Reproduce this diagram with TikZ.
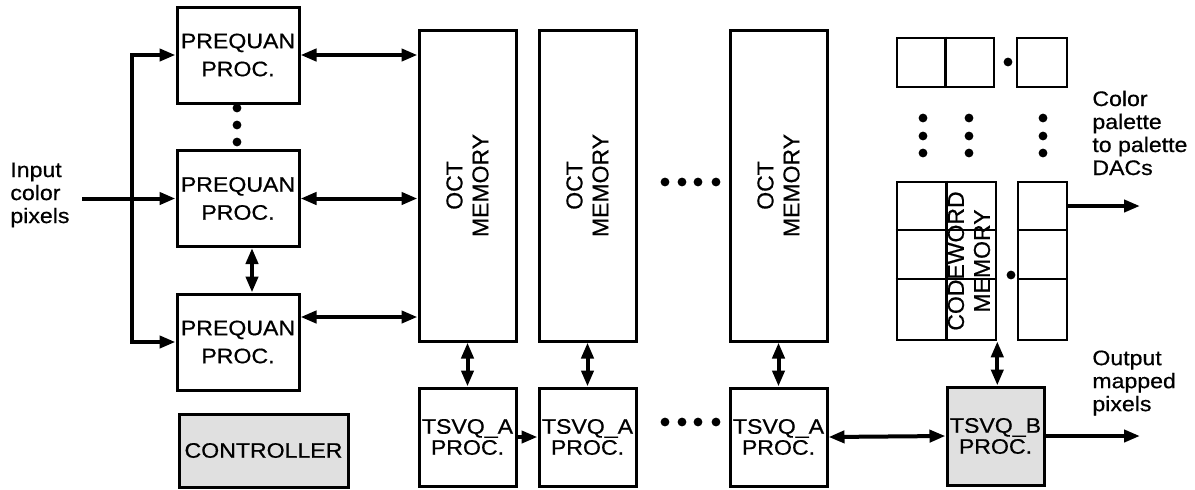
\documentclass[tikz,border=0pt]{standalone}
\usepackage{fontspec}
\setmainfont{Liberation Sans}[FakeStretch=1.1, FakeBold=0.6]
\newfontfamily\rotfont{Liberation Sans}[FakeBold=0.6]
\usetikzlibrary{positioning, arrows.meta, calc}

\begin{document}
\begin{tikzpicture}[
    x=0.5pt, y=-0.5pt,
    box/.style={draw, line width=1.5pt, inner sep=0pt, align=center, font=\fontsize{10.5}{14}\selectfont},
    prequan/.style={box, minimum width=61pt, minimum height=48pt},
    octmem/.style={box, minimum width=48.5pt, minimum height=155.5pt},
    tsvq/.style={box, minimum width=48.5pt, minimum height=49pt, font=\fontsize{10.5}{10.5}\selectfont},
    shaded/.style={fill=black!12},
    rotlbl/.style={rotate=90, align=center, inner sep=0pt, font=\rotfont\fontsize{11.5}{13}\selectfont},
    cell/.style={draw, line width=1.3pt, inner sep=0pt},
    lbl/.style={align=left, inner sep=0pt, anchor=west, font=\fontsize{10.5}{11.5}\selectfont},
    arrow/.style={-{Triangle[length=8pt, width=6pt]}, line width=2pt},
    dblarrow/.style={{Triangle[length=8pt, width=6pt]}-{Triangle[length=8pt, width=6pt]}, line width=2pt},
]

\useasboundingbox (0,0) rectangle (1195,489);

% prequantizer column
\node[prequan] (pq1) at (238,55) {PREQUAN\\PROC.};
\node[prequan] (pq2) at (238,198.5) {PREQUAN\\PROC.};
\node[prequan] (pq3) at (238,342) {PREQUAN\\PROC.};
\node[box, shaded, minimum width=84.5pt, minimum height=36.5pt] (ctrl) at (263.5,450.5) {CONTROLLER};

\foreach \y in {108,125,142}
    \fill (237,\y) circle (2.2pt);

\node[lbl] (in_lbl) at (10,195) {Input\\color\\pixels};
\coordinate (inp) at (82,198.5);
\coordinate (bus) at (132,198.5);

\draw[arrow] (inp) -- (pq2.west);
\draw[dblarrow] (pq1.west) -| (bus) |- (pq3.west);
\draw[dblarrow] ([xshift=7pt]pq2.south) -- ([xshift=7pt]pq3.north);

% octree memories and tsvq_a processors
\node[octmem] (oct1) at (467.5,185.5) {};
\node[octmem] (oct2) at (587.5,185.5) {};
\node[octmem] (oct3) at (778.5,185.5) {};
\node[rotlbl] (oct1_lbl) at (oct1) {OCT\\MEMORY};
\node[rotlbl] (oct2_lbl) at (oct2) {OCT\\MEMORY};
\node[rotlbl] (oct3_lbl) at (oct3) {OCT\\MEMORY};

\node[tsvq] (tsa1) at (467.5,437) {TSVQ\_A\\PROC.};
\node[tsvq] (tsa2) at (587.5,437) {TSVQ\_A\\PROC.};
\node[tsvq] (tsa3) at (778.5,437) {TSVQ\_A\\PROC.};

\foreach \x in {665,682,698,716} {
    \fill (\x,182) circle (2.2pt);
    \fill (\x,422) circle (2.2pt);
}

\draw[dblarrow] (pq1.east) -- (pq1.east -| oct1.west);
\draw[dblarrow] (pq2.east) -- (pq2.east -| oct1.west);
\draw[dblarrow] ([yshift=12.5pt]pq3.east) -- ([yshift=12.5pt]pq3.east -| oct1.west);
\foreach \i in {1,2,3}
    \draw[dblarrow] (oct\i.south) -- (tsa\i.north);
\draw[arrow] (tsa1.east) -- (tsa2.west);

% codeword memory
\node[cell, minimum width=48.5pt, minimum height=24.5pt] (cwtop) at (945.5,62.5) {};
\node[cell, minimum width=25pt, minimum height=24.5pt] (paltop) at (1042,62.5) {};
\draw[line width=1.3pt] (cwtop.north) -- (cwtop.south);
\fill (1008,62) circle (2.2pt);

\foreach \x in {923,969,1043}
    \foreach \y in {118,136,153}
        \fill (\x,\y) circle (2.2pt);

\node[cell, minimum width=49.5pt, minimum height=79pt] (cw) at (946.5,261) {};
\node[cell, minimum width=24.5pt, minimum height=79pt] (pal) at (1042.5,261) {};
\draw[line width=1.3pt] (cw.north) -- (cw.south);
\foreach \y in {230,279} {
    \draw[line width=1.3pt] (cw.west |- 0,\y) -- (cw.east |- 0,\y);
    \draw[line width=1.3pt] (pal.west |- 0,\y) -- (pal.east |- 0,\y);
}
\node[rotlbl] (cw_lbl) at (969,261) {CODEWORD\\MEMORY};
\fill (1011,275) circle (2.2pt);

\node[tsvq, shaded] (tsb) at (995.5,436) {TSVQ\_B\\PROC.};

\node[lbl] (pal_lbl) at (1092,133) {Color\\palette\\to palette\\DACs};
\node[lbl] (out_lbl) at (1092,383) {Output\\mapped\\pixels};
\coordinate (palout) at (1140,206);
\coordinate (pixout) at (1140,436);

\draw[arrow] (pal.east |- 0,206) -- (palout);
\draw[dblarrow] (cw.south east) -- (cw.south east |- tsb.north);
\draw[dblarrow] (tsa3.east) -- (tsb.west);
\draw[arrow] (tsb.east) -- (pixout);

\end{tikzpicture}
\end{document}
